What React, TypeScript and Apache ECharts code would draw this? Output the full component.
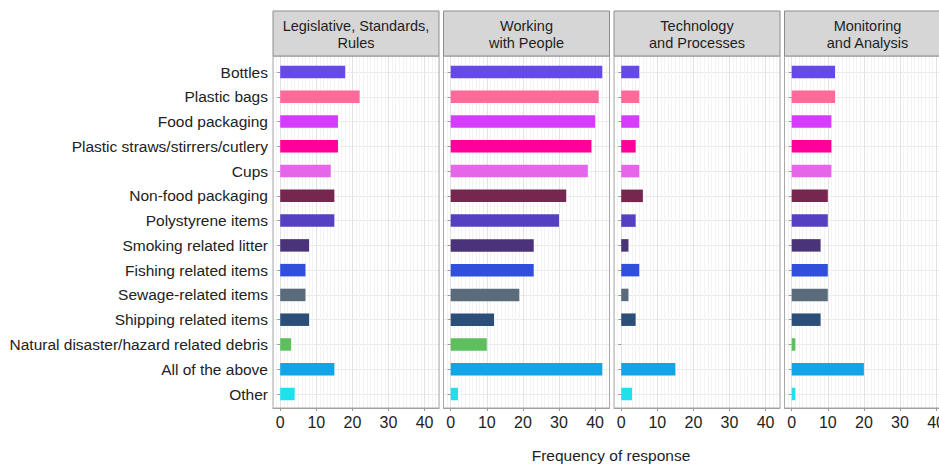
import React, { useEffect, useRef } from 'react';
import * as echarts from 'echarts';

const categories = [
  'Bottles',
  'Plastic bags',
  'Food packaging',
  'Plastic straws/stirrers/cutlery',
  'Cups',
  'Non-food packaging',
  'Polystyrene items',
  'Smoking related litter',
  'Fishing related items',
  'Sewage-related items',
  'Shipping related items',
  'Natural disaster/hazard related debris',
  'All of the above',
  'Other',
];
const panelTitles = [
  'Legislative, Standards,\nRules',
  'Working\nwith People',
  'Technology\nand Processes',
  'Monitoring\nand Analysis',
];
const legislative = [18, 22, 16, 16, 14, 15, 15, 8, 7, 7, 8, 3, 15, 4];
const workingWithPeople = [42, 41, 40, 39, 38, 32, 30, 23, 23, 19, 12, 10, 42, 2];
const technology = [5, 5, 5, 4, 5, 6, 4, 2, 5, 2, 4, 0, 15, 3];
const monitoring = [12, 12, 11, 11, 11, 10, 10, 8, 10, 10, 8, 1, 20, 1];
const barColors = [
  '#664ae8', '#ff6a9a', '#d63cfc', '#ff009c', '#e566e8', '#76264f', '#5440c0',
  '#4b3379', '#3050dc', '#5a6b7b', '#2b4f78', '#5dbf5e', '#13a3e8', '#20e0ec',
];
const xTicks = [0, 10, 20, 30, 40];
const axisTitle = 'Frequency of response';

const panelValues = [legislative, workingWithPeople, technology, monitoring];

const FONT = "'Liberation Sans', Arial, sans-serif";

export default function App() {
  const ref = useRef<HTMLDivElement>(null);
  useEffect(() => {
    if (!ref.current) return;
    const chart = echarts.init(ref.current, undefined, { renderer: 'svg' });
    const lefts = [273, 443.5, 614, 784.5];
    const W = 166;
    const panelTop = 56;
    const panelBottom = 408;
    const catTop = 72;
    const catBottom = 394;

    const grid: any[] = [];
    const xAxis: any[] = [];
    const yAxis: any[] = [];
    const series: any[] = [];
    const graphic: any[] = [];

    const splitColors = ['#f3f3f3', '#f3f3f3', '#e2e2e2', '#f3f3f3', '#f3f3f3', '#f3f3f3', '#f3f3f3', '#f3f3f3', '#f3f3f3', '#f3f3f3'];

    lefts.forEach((L, i) => {
      const gA = grid.length;
      grid.push({ left: L, top: panelTop, width: W, height: panelBottom - panelTop, containLabel: false, outerBoundsMode: 'none' });
      const gB = grid.length;
      grid.push({ left: L, top: catTop, width: W, height: catBottom - catTop, containLabel: false, outerBoundsMode: 'none' });

      xAxis.push({
        type: 'value', gridIndex: gA, min: -2, max: 44, interval: 1,
        axisLine: { show: false }, axisTick: { show: false }, axisLabel: { show: false },
        splitLine: { show: true, lineStyle: { color: splitColors, width: 1 } },
      });
      xAxis.push({
        type: 'value', gridIndex: gA, min: -2, max: 44, position: 'bottom',
        axisLine: { show: true, lineStyle: { color: '#9a9a9a', width: 1 } },
        axisTick: { show: true, length: 3, customValues: xTicks, lineStyle: { color: '#9a9a9a' } },
        axisLabel: { show: true, customValues: xTicks, margin: 6, fontSize: 16, color: '#222', fontFamily: FONT },
        splitLine: { show: false },
      });
      const xB = xAxis.length;
      xAxis.push({ type: 'value', gridIndex: gB, min: -2, max: 44, show: false });

      yAxis.push({ type: 'value', gridIndex: gA, min: 0, max: 1, show: false });
      const yB = yAxis.length;
      yAxis.push({
        type: 'category', gridIndex: gB, data: categories, inverse: true, boundaryGap: false,
        axisLine: { show: false },
        axisTick: { show: true, length: 3, interval: 0, lineStyle: { color: '#9a9a9a' } },
        axisLabel: {
          show: i === 0, interval: 0, margin: 5, fontSize: 15.5, color: '#222', fontFamily: FONT,
        },
        splitLine: { show: true, interval: 0, lineStyle: { color: '#e8e8e8', width: 1 } },
      });

      series.push({
        type: 'bar', xAxisIndex: xB, yAxisIndex: yB, barWidth: 12.5, clip: false,
        data: panelValues[i].map((v, k) => ({ value: v === 0 ? '-' : v, itemStyle: { color: barColors[k] } })),
      });

      graphic.push({
        type: 'rect', z: 10, silent: true,
        shape: { x: L, y: panelTop, width: W, height: panelBottom - panelTop },
        style: { fill: 'none', stroke: '#a8a8a8', lineWidth: 1 },
      });
      graphic.push({
        type: 'rect', z: 10, silent: true,
        shape: { x: L, y: 11, width: W, height: panelTop - 11 },
        style: { fill: '#d6d6d6', stroke: '#8c8c8c', lineWidth: 1 },
      });
      graphic.push({
        type: 'text', z: 11, silent: true, x: L + W / 2, y: 34.5,
        style: {
          text: panelTitles[i], fill: '#1e1e1e', font: `14.5px ${FONT}`,
          textAlign: 'center', textVerticalAlign: 'middle', lineHeight: 17,
        },
      });
    });

    graphic.push({
      type: 'text', z: 11, silent: true, x: 611, y: 455,
      style: {
        text: axisTitle, fill: '#1e1e1e', font: `15.5px ${FONT}`,
        textAlign: 'center', textVerticalAlign: 'middle',
      },
    });

    chart.setOption({
      animation: false,
      backgroundColor: '#ffffff',
      grid, xAxis, yAxis, series, graphic,
    });
    return () => chart.dispose();
  }, []);
  return <div ref={ref} style={{ position: 'fixed', left: 0, top: 0, width: 939, height: 465 }} />;
}
